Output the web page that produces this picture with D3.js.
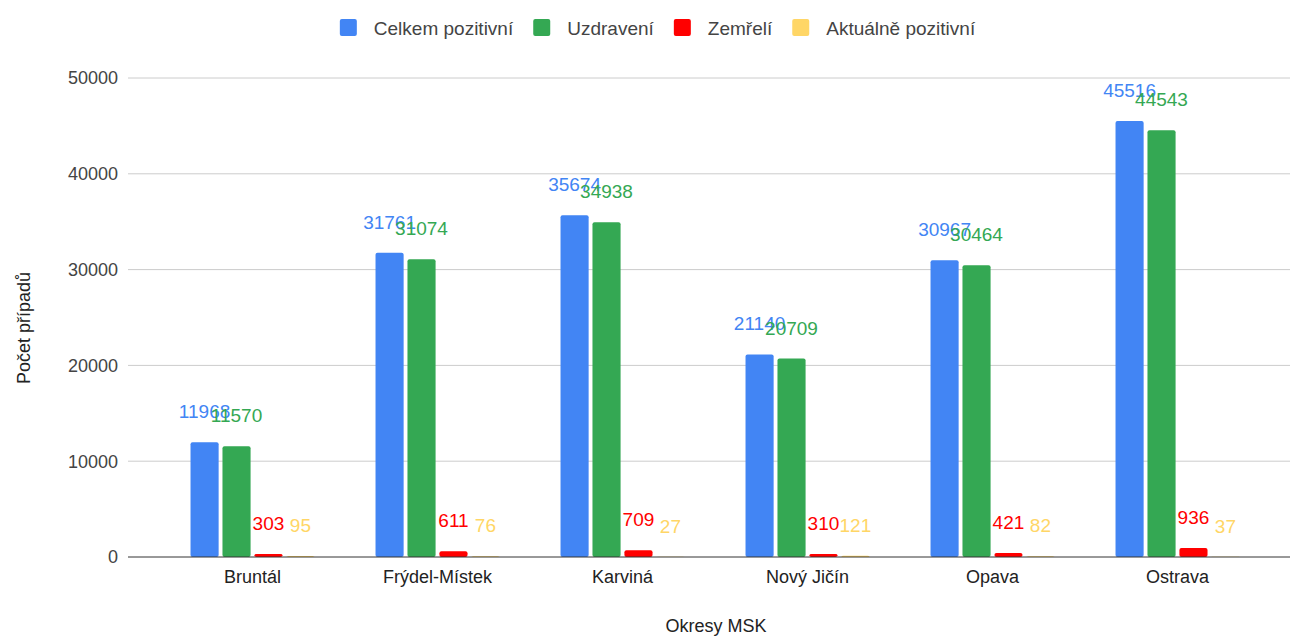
<!DOCTYPE html>
<html>
<head>
<meta charset="utf-8">
<script src="https://cdn.jsdelivr.net/npm/d3@7"></script>
<style>
  body { margin: 0; background: #fff; }
  text { font-family: "Liberation Sans", Arial, sans-serif; }
</style>
</head>
<body>
<svg id="chart" width="1292" height="637"></svg>
<script>
// districts and series
const districts = ["Bruntál", "Frýdel-Místek", "Karviná", "Nový Jičín", "Opava", "Ostrava"];
const seriesNames = ["Celkem pozitivní", "Uzdravení", "Zemřelí", "Aktuálně pozitivní"];
const celkem = [11968, 31761, 35674, 21140, 30967, 45516];
const uzdraveni = [11570, 31074, 34938, 20709, 30464, 44543];
const zemreli = [303, 611, 709, 310, 421, 936];
const aktualne = [95, 76, 27, 121, 82, 37];
const yTicks = [0, 10000, 20000, 30000, 40000, 50000];
const colors = ["#4285f4", "#34a853", "#ff0000", "#ffd666"];

const seriesValues = [celkem, uzdraveni, zemreli, aktualne];

const svg = d3.select("#chart");

// plot area
const plot = {left: 128, right: 1290, top: 78, bottom: 557};

let y = d3.scaleLinear().domain([0, 50000]).range([plot.bottom, plot.top]);

let x0 = d3.scaleBand().domain(districts)
  .range([160, 1270])
  .paddingInner(0.33).paddingOuter(0.165);

let x1 = d3.scaleBand().domain(seriesNames)
  .range([0, x0.bandwidth()])
  .paddingInner(0.12);

// gridlines
svg.append("g").selectAll("line")
  .data(yTicks.filter(d => d !== 0))
  .enter().append("line")
  .attr("x1", plot.left).attr("x2", plot.right)
  .attr("y1", d => y(d)).attr("y2", d => y(d))
  .attr("stroke", "#cccccc").attr("stroke-width", 1);

// y tick labels
svg.append("g").selectAll("text")
  .data(yTicks)
  .enter().append("text")
  .attr("x", 118)
  .attr("y", d => y(d))
  .attr("dy", "0.35em")
  .attr("text-anchor", "end")
  .attr("font-size", 18)
  .attr("fill", "#444")
  .text(d => d);

// bars
const groups = svg.append("g").selectAll("g")
  .data(districts)
  .enter().append("g")
  .attr("transform", d => "translate(" + x0(d) + ",0)");

groups.selectAll("rect")
  .data((d, i) => seriesNames.map((s, j) => ({s: s, v: seriesValues[j][i], c: colors[j]})))
  .enter().append("rect")
  .attr("x", d => x1(d.s))
  .attr("y", d => y(d.v))
  .attr("width", x1.bandwidth())
  .attr("height", d => plot.bottom - y(d.v))
  .attr("rx", 2)
  .attr("fill", d => d.c);

// value labels
groups.selectAll("text")
  .data((d, i) => seriesNames.map((s, j) => ({s: s, v: seriesValues[j][i], c: colors[j]})))
  .enter().append("text")
  .attr("x", d => x1(d.s) + x1.bandwidth() / 2)
  .attr("y", d => y(d.v) - 24)
  .attr("text-anchor", "middle")
  .attr("font-size", 19)
  .attr("fill", d => d.c)
  .text(d => d.v);

// baseline
svg.append("line")
  .attr("x1", plot.left).attr("x2", plot.right)
  .attr("y1", y(0)).attr("y2", y(0))
  .attr("stroke", "#333").attr("stroke-width", 1);

// x tick labels
svg.append("g").selectAll("text")
  .data(districts)
  .enter().append("text")
  .attr("x", d => x0(d) + x0.bandwidth() / 2)
  .attr("y", 583)
  .attr("text-anchor", "middle")
  .attr("font-size", 18)
  .attr("fill", "#222")
  .text(d => d);

// axis titles
svg.append("text")
  .attr("x", 716).attr("y", 632)
  .attr("text-anchor", "middle")
  .attr("font-size", 18)
  .attr("fill", "#222")
  .text("Okresy MSK");

svg.append("text")
  .attr("transform", "translate(30,328) rotate(-90)")
  .attr("text-anchor", "middle")
  .attr("font-size", 18)
  .attr("fill", "#222")
  .text("Počet případů");

// legend
const legend = svg.append("g");
let lx = 0;
seriesNames.forEach(function(name, i) {
  let item = legend.append("g").attr("transform", "translate(" + lx + ",0)");
  item.append("rect")
    .attr("x", 0).attr("y", 19)
    .attr("width", 17).attr("height", 17)
    .attr("rx", 2)
    .attr("fill", colors[i]);
  let t = item.append("text")
    .attr("x", 34).attr("y", 28)
    .attr("dy", "0.35em")
    .attr("font-size", 19)
    .attr("fill", "#444")
    .text(name);
  lx += 34 + t.node().getComputedTextLength() + 20;
});
const legendWidth = lx - 20;
legend.attr("transform", "translate(" + (657.5 - legendWidth / 2) + ",0)");
</script>
</body>
</html>
